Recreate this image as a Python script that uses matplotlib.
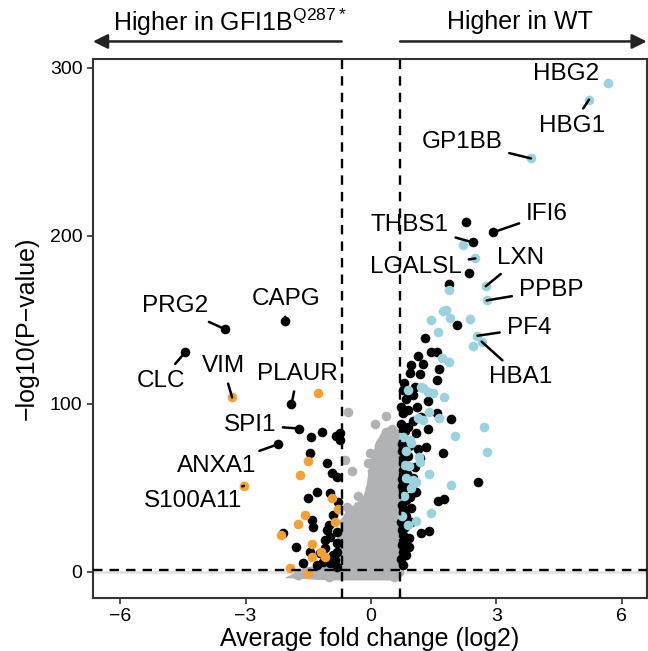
import numpy as np
import matplotlib
matplotlib.use("Agg")
import matplotlib.pyplot as plt

plt.rcParams['font.family'] = ['Liberation Sans', 'DejaVu Sans']

# colours
col_gray = '#B0B2B4'
col_black = '#000000'
col_orange = '#F5A030'
col_blue = '#9BD2E0'

# thresholds
fc_cut = 0.7
p_cut = 1.3

# gray cloud outline (non significant genes)
cloud_x = [-1.75, -1.55, -1.2, -0.85, -0.75, -0.7, -0.64, -0.5, -0.3, -0.12, -0.03,
           0.03, 0.10, 0.22, 0.35, 0.5, 0.65, 0.68, 0.68, 0.55, -1.0, -1.75]
cloud_y = [-2, 0.5, 2.2, 5, 12, 20, 30, 36, 39, 43, 50,
           60, 68, 77, 83, 85, 82, 60, 0, -3, -3, -2]

gray_x = [-0.54, 0.37, -0.02, -0.07, 0.17, -0.62, -0.58, -1.72, -0.45, 0.1, -0.3, 0.2]
gray_y = [95.4, 92.9, 70.8, 64.9, 65.5, 66.7, 38.9, -0.8, 60, 88, 45, 75]

# black points
black_x = [-3.5, -2.06, -4.44, -1.9, -1.72, -2.22,
           -1.16, -1.44, -0.84, -0.73, -0.74, -1.46, -1.06, -0.94, -0.82, -1.3,
           -0.98, -1.5, -0.78, -0.9, -1.42, -1.38, -2.1, -1.8, -1.06, -0.98,
           -1.1, -0.82, -1.46, -1.22, -0.82, -0.86, -1.62, -1.3, -0.98, -0.82,
           -1.1, -0.9, -1.0, -0.8, -1.15,
           2.45, 2.92, 2.27, 2.35, 1.87, 2.05, 1.29, 1.45, 1.57, 1.13, 1.25,
           1.64, 0.93, 1.17, 1.57, 0.8, 0.97, 1.01, 1.37, 0.73, 0.89, 0.77,
           1.57, 1.92, 1.37, 0.89, 1.09, 0.81, 1.32, 1.17, 1.73, 0.89, 1.05,
           0.77, 2.57, 0.85, 1.09, 0.93, 1.61, 1.75, 0.77, 1.2, 1.39, 0.92,
           0.81, 0.85, 1.05, 0.73, 0.75, 0.76, 0.74, 0.78, 0.74, 0.8, 0.73,
           0.76, 0.74, 0.78, 0.73, 0.77, 0.95, 1.0, 0.86, 0.9, 1.0, 0.85,
           1.05, 0.95, 1.1, 0.82, 0.78, 1.12, 1.2, 0.96, 0.9, 0.85,
           0.74, 0.8, 0.75, 0.79, 0.74, 0.83]
black_y = [144.5, 149, 130.8, 99.8, 85.3, 76,
           83.1, 80.2, 81, 82.9, 78.6, 70.6, 64.7, 59, 56.4, 47.8,
           46.8, 43.9, 41.8, 33.9, 31, 27, 23, 15.1, 25, 21,
           19, 17, 12.1, 11.1, 12.1, 7.1, 5.2, 4.2, 5.2, 3.2,
           14, 10, 28, 24, 6,
           196, 202, 208, 178, 171.4, 147, 139, 131, 131, 128.6, 124,
           120.6, 118.6, 117.9, 114.3, 112.3, 106.4, 105.4, 101.4, 98.4, 96.4, 94.4,
           94.4, 90.9, 85, 86.5, 82.6, 78.6, 74.6, 67.7, 71, 68.7, 62.7,
           60.7, 53.8, 50.8, 47.8, 44.8, 42.4, 43.4, 34.9, 23.4, 24.4, 20,
           27, 42.9, 47.8, 88, 72, 65, 55, 46, 40, 36, 30,
           22, 16, 12, 8, 4, 38, 56, 58, 75, 90, 103,
           110, 123, 98, 84, 108, 73, 92, 30, 15, 10,
           76, 68, 51, 19, 25, 33]

# orange points (higher in GFI1B Q287*)
orange_x = [-3.32, -3.04, -1.26, -1.5, -1.7, -0.93, -0.78, -1.58, -1.74, -2.14,
            -1.42, -1.42, -1.1, -1.94, -1.5, -0.85, -1.2]
orange_y = [103.8, 51.2, 106.4, 66, 57.7, 43.9, 37.3, 33.9, 28.4, 22,
            16.7, 9.1, 9.1, 2.2, -0.8, 30, 12]

# light blue points (higher in WT)
blue_x = [5.67, 5.22, 3.83, 2.5, 2.21, 2.75, 2.77, 2.55, 2.65, 2.45, 1.87, 1.73,
          1.8, 1.89, 1.43, 2.37, 1.61, 1.69, 1.87, 0.89, 1.21, 1.37, 1.25, 1.49,
          1.76, 1.13, 1.25, 1.4, 1.64, 2.01, 2.71, 0.97, 2.79, 0.81, 1.4, 1.09,
          1.92, 1.44, 1.08, 1.16, 1.17, 1.01, 0.93, 0.78, 0.85, 0.9, 0.83, 0.95,
          0.8, 0.75, 0.88]
blue_y = [291, 281, 246, 186.5, 194.6, 170, 161.5, 140.5, 137, 134.7, 168, 155,
          156, 151, 149.6, 150.6, 142.5, 127, 125, 108.3, 110.3, 107.3, 109.3, 106.4,
          104, 91.5, 90.5, 95.4, 91.5, 81, 86.5, 76.6, 71.4, 63.7, 58.3, 53.8,
          51.8, 35.3, 30.5, 68.3, 65.7, 54.8, 78.6, 80, 72, 63, 56, 50,
          45, 33, 28]

# gene labels: name, point, label centre
genes = ['HBG2', 'HBG1', 'GP1BB', 'IFI6', 'THBS1', 'LGALSL', 'LXN', 'PPBP',
         'PF4', 'HBA1', 'PRG2', 'CAPG', 'CLC', 'VIM', 'PLAUR', 'SPI1', 'ANXA1',
         'S100A11']
gene_x = [5.67, 5.22, 3.83, 2.92, 2.45, 2.5, 2.75, 2.77, 2.55, 2.65, -3.5, -2.06,
          -4.44, -3.32, -1.9, -1.72, -2.22, -3.04]
gene_y = [291, 281, 246, 202, 196, 186.5, 170, 161.5, 140.5, 137, 144.5, 149,
          130.8, 103.8, 99.8, 85.3, 76, 51.2]
lab_x = [4.67, 4.81, 2.18, 4.21, 0.93, 1.08, 3.59, 4.31, 3.78, 3.59, -4.69, -2.03,
         -5.03, -3.54, -1.75, -2.9, -3.69, -4.25]
lab_y = [296, 265.5, 256, 213, 206.5, 181.5, 187, 168, 145, 116, 158, 162.5,
         113.7, 122.6, 118, 87.5, 63, 42]

fig = plt.figure(figsize=(6.48, 6.51), dpi=100)
ax = fig.add_axes([0.1435, 0.0814, 0.8545, 0.8276])

ax.axhline(0, color='#E3E3E3', lw=2, zorder=0)

ax.fill(cloud_x, cloud_y, color=col_gray, ec=col_gray, lw=5, zorder=1)
ax.scatter(cloud_x, cloud_y, s=48, color=col_gray, lw=0, zorder=1)
ax.scatter(gray_x, gray_y, s=48, color=col_gray, lw=0, zorder=1)

ax.scatter(black_x, black_y, s=48, color=col_black, lw=0, zorder=2)
ax.scatter(orange_x, orange_y, s=48, color=col_orange, lw=0, zorder=3)
ax.scatter(blue_x, blue_y, s=48, color=col_blue, lw=0, zorder=3)

for v in (-fc_cut, fc_cut):
    ax.axvline(v, color='black', lw=1.7, ls=(0, (4, 3)), zorder=4)
ax.axhline(p_cut, color='black', lw=1.7, ls=(0, (4, 3)), zorder=4)

for i in range(len(genes)):
    if genes[i] == 'HBG2':
        ax.text(lab_x[i], lab_y[i], genes[i], fontsize=17.5, ha='center', va='center', zorder=5)
        continue
    ax.annotate(genes[i], xy=(gene_x[i], gene_y[i]), xytext=(lab_x[i], lab_y[i]),
                fontsize=17.5, ha='center', va='center', zorder=5,
                arrowprops=dict(arrowstyle='-', color='black', lw=1.8,
                                shrinkA=3, shrinkB=0))

ax.set_xlim(-6.65, 6.6)
ax.set_ylim(-15.5, 305)
ax.set_xticks([-6, -3, 0, 3, 6])
ax.set_xticklabels(['\u22126', '\u22123', '0', '3', '6'])
ax.set_yticks([0, 100, 200, 300])
ax.tick_params(labelsize=14, length=4, width=1.2, color='#333333')
for s in ax.spines.values():
    s.set_linewidth(1.5)
    s.set_color('#333333')

ax.set_xlabel('Average fold change (log2)', fontsize=18, labelpad=1)
ax.set_ylabel('\u2212log10(P\u2212value)', fontsize=18, labelpad=8)

# direction arrows above the panel
tr = ax.get_xaxis_transform()
ax.annotate('', xy=(-6.65, 1.033), xytext=(-fc_cut, 1.033), xycoords=tr,
            textcoords=tr, annotation_clip=False,
            arrowprops=dict(arrowstyle='-|>', color='#222222', lw=1.8,
                            mutation_scale=22, shrinkA=0, shrinkB=0))
ax.annotate('', xy=(6.6, 1.033), xytext=(fc_cut, 1.033), xycoords=tr,
            textcoords=tr, annotation_clip=False,
            arrowprops=dict(arrowstyle='-|>', color='#222222', lw=1.8,
                            mutation_scale=22, shrinkA=0, shrinkB=0))
ax.text(-3.38, 1.069, 'Higher in GFI1B$^{\\mathregular{Q287*}}$', transform=tr,
        fontsize=18, ha='center', va='center')
ax.text(3.57, 1.069, 'Higher in WT', transform=tr, fontsize=18,
        ha='center', va='center')

fig.savefig('out.png', dpi=100)
